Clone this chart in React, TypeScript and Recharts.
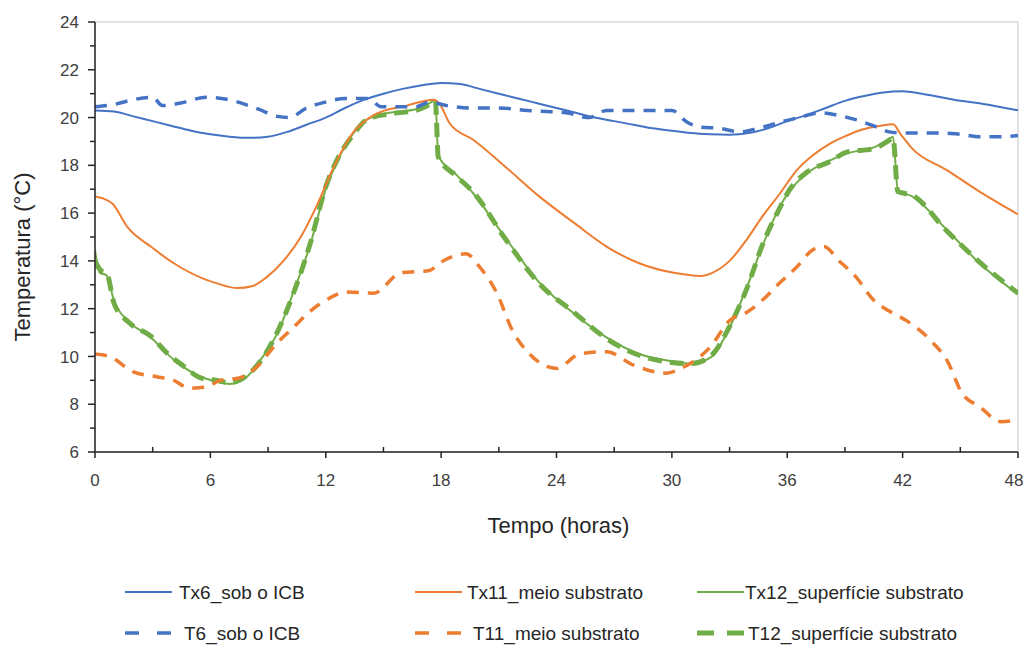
import React from 'react';
import { LineChart, Line, XAxis, YAxis, CartesianGrid, Label } from 'recharts';

const tx6Times = [0,1,2,3,4,5,6,7,8,9,10,11,12,13,14,15,16,17,18,19,20,21,22,23,24,25,26,27,28,29,30,31,32,33,34,35,36,37,38,39,40,41,42,43,44,45,46,47,48];
const tx6Vals = [20.3,20.25,20.05,19.85,19.65,19.45,19.3,19.2,19.15,19.2,19.4,19.7,20.0,20.4,20.75,21.0,21.2,21.35,21.45,21.4,21.2,21.0,20.8,20.6,20.4,20.2,20.0,19.85,19.7,19.55,19.45,19.35,19.3,19.28,19.35,19.55,19.85,20.1,20.4,20.7,20.9,21.05,21.1,21.0,20.85,20.7,20.6,20.45,20.3];

const t6Times = [0,1,2,3,3.5,4.4,5.8,7.2,8.5,9.5,10.1,11,12,13,14.2,14.9,15.7,16.7,17.4,18.3,19.5,21,22.5,23.5,24.5,25.7,26.6,28,30,30.8,31.5,32.5,33.5,34.5,35.6,36.6,37.8,38.6,39.6,40.5,41.3,42,43,44,45,46,47,48];
const t6Vals = [20.45,20.55,20.75,20.85,20.5,20.6,20.85,20.7,20.35,20.05,20.0,20.4,20.65,20.8,20.8,20.45,20.45,20.45,20.65,20.5,20.4,20.4,20.3,20.25,20.2,20.0,20.3,20.3,20.3,19.8,19.6,19.55,19.4,19.55,19.8,20.0,20.2,20.1,19.9,19.65,19.4,19.35,19.35,19.35,19.3,19.2,19.2,19.25];

const tx11Times = [0,0.4,0.9,1.7,2.9,4.1,5.5,6.3,7.4,8.2,8.9,9.8,10.7,11.5,12.4,13.4,14.5,16.2,17.6,17.9,18.45,19.7,21.4,23.1,24.9,26.6,28.3,30.1,31.5,32.1,33,33.9,34.7,35.6,36.5,37.3,38.2,39.1,39.9,40.8,41.5,41.9,42.5,44.3,46,48];
const tx11Vals = [16.7,16.62,16.4,15.4,14.6,13.9,13.3,13.07,12.86,12.95,13.3,14.0,15.0,16.25,17.9,19.35,20.1,20.5,20.75,20.6,19.75,19.05,17.9,16.7,15.6,14.6,13.9,13.5,13.37,13.5,14.0,14.9,15.85,16.8,17.8,18.4,18.9,19.25,19.5,19.65,19.72,19.3,18.7,17.8,16.9,15.95];

const t11Times = [0,0.8,2,3.2,4.1,4.9,5.8,6.5,7.5,8.4,9.45,10.3,11.2,12.1,13.1,14.5,15.9,17.4,17.9,19.3,20,20.9,21.7,22.6,24,25.2,26.6,28,29.7,30.6,32,33,33.9,34.7,35.6,36.5,37.3,37.9,38.7,39.6,40.5,41.3,42.2,43.6,44.3,45.1,46,47.1,48];
const t11Vals = [10.1,9.98,9.35,9.15,9.0,8.67,8.72,9.0,9.1,9.55,10.55,11.2,11.9,12.4,12.7,12.65,13.5,13.6,13.9,14.3,13.75,12.65,11.1,10.1,9.5,10.1,10.2,9.64,9.3,9.55,10.4,11.5,11.85,12.35,13.07,13.75,14.45,14.6,14.0,13.3,12.35,11.9,11.5,10.55,9.85,8.45,7.9,7.27,7.35];

const tx12Times = [0,0.25,0.6,1,1.7,2.9,3.7,4.6,5.5,6.3,7.0,7.9,8.6,9.5,10.3,11.2,12.0,12.7,13.4,14.1,15.3,16.7,17.4,17.7,17.85,18.8,19.7,21.4,23.1,24.9,26.6,28.3,30.0,31.0,32.0,33.0,33.9,34.7,35.6,36.1,37.0,38.2,39.1,40.5,41.3,41.5,41.75,42.5,44.3,46.0,48];
const tx12Vals = [14.45,13.5,13.4,12.3,11.5,10.8,10.15,9.55,9.15,8.95,8.85,9.15,9.85,11.0,12.65,14.7,17.0,18.35,19.3,19.9,20.2,20.35,20.6,20.75,18.4,17.6,16.8,14.9,13.1,11.8,10.8,10.1,9.8,9.7,9.95,11.2,12.9,14.6,16.25,16.9,17.65,18.2,18.5,18.75,19.1,19.2,16.95,16.7,15.3,13.9,12.6];

const t12Times = [0,0.3,0.6,1,1.8,2.9,3.8,4.6,5.5,6.3,7.0,7.9,8.6,9.5,10.3,11.2,12.0,12.7,13.4,14.2,15.3,16.7,17.4,17.7,17.85,18.8,19.7,21.4,23.1,24.9,26.6,28.3,30.0,31.0,32.0,33.0,33.9,34.7,35.6,36.1,37.0,38.2,39.1,40.5,41.3,41.5,41.75,42.5,44.3,46.0,48];
const t12Vals = [14.0,13.6,13.5,12.2,11.4,10.85,10.1,9.6,9.1,9.0,8.9,9.2,9.8,11.05,12.6,14.75,17.1,18.4,19.25,19.95,20.15,20.3,20.55,20.7,18.35,17.55,16.85,14.85,13.05,11.85,10.75,10.05,9.75,9.7,10.0,11.25,12.85,14.65,16.2,16.95,17.7,18.15,18.55,18.7,19.05,19.15,16.9,16.75,15.25,13.95,12.65];

const minorXTicks = [0,3,6,9,12,15,18,21,24,27,30,33,36,39,42,45,48];
const majorXTicks = [0,6,12,18,24,30,36,42,48];
const minorYTicks = [6,7,8,9,10,11,12,13,14,15,16,17,18,19,20,21,22,23,24];
const majorYTicks = [6,8,10,12,14,16,18,20,22,24];

const seriesNames = ['Tx6_sob o ICB','Tx11_meio substrato','Tx12_superfície substrato','T6_sob o ICB','T11_meio substrato','T12_superfície substrato'];

const BLUE = '#4472C4';
const ORANGE = '#ED7D31';
const GREEN = '#70AD47';
const FONT = '"Liberation Sans", Arial, sans-serif';

const toPoints = (ts: number[], vs: number[]) => ts.map((t, i) => ({ t, v: vs[i] }));

const XTick = (props: any) => {
  const { x, y, payload } = props;
  const major = payload.value % 6 === 0;
  const last = payload.value === 48;
  return (
    <g>
      <line x1={x} x2={x} y1={y} y2={major ? y + 6 : y - 5} stroke="#262626" strokeWidth={1.5} />
      {major && (
        <text x={last ? x - 4 : x} y={y + 34} textAnchor="middle" fontSize={17} fill="#404040" fontFamily={FONT}>
          {payload.value}
        </text>
      )}
    </g>
  );
};

const YTick = (props: any) => {
  const { x, y, payload } = props;
  const major = payload.value % 2 === 0;
  return (
    <g>
      <line x1={major ? x - 7 : x - 5} x2={x} y1={y} y2={y} stroke="#262626" strokeWidth={1.5} />
      {major && (
        <text x={x - 16} y={y} dy="0.36em" textAnchor="end" fontSize={17} fill="#404040" fontFamily={FONT}>
          {payload.value}
        </text>
      )}
    </g>
  );
};

const legendRows = [
  { y: 592, items: [
    { x: 125, color: BLUE, dash: undefined, w: 2, tx: 179, name: seriesNames[0] },
    { x: 415, color: ORANGE, dash: undefined, w: 2, tx: 467, name: seriesNames[1] },
    { x: 697, color: GREEN, dash: undefined, w: 2, tx: 745, name: seriesNames[2] },
  ]},
  { y: 633, items: [
    { x: 125, color: BLUE, dash: '14 18', w: 3.5, tx: 184, name: seriesNames[3] },
    { x: 415, color: ORANGE, dash: '14 18', w: 3.5, tx: 473, name: seriesNames[4] },
    { x: 697, color: GREEN, dash: '17 13', w: 5, tx: 748, name: seriesNames[5] },
  ]},
];

export default function App() {
  return (
    <div style={{ position: 'relative', width: 1031, height: 645, margin: '-8px 0 0 -8px' }}>
      <LineChart width={1031} height={645} margin={{ top: 22, right: 13, bottom: 163, left: 0 }}>
        <XAxis xAxisId="g" type="number" domain={[0, 48]} ticks={majorXTicks} hide />
        <YAxis yAxisId="g" type="number" domain={[6, 24]} ticks={majorYTicks} hide />
        <CartesianGrid xAxisId="g" yAxisId="g" stroke="#d9d9d9" strokeWidth={1.5} />
        <XAxis
          type="number"
          dataKey="t"
          domain={[0, 48]}
          ticks={minorXTicks}
          interval={0}
          allowDataOverflow
          tick={<XTick />}
          tickLine={false}
          tickSize={0}
          tickMargin={0}
          height={30}
          axisLine={{ stroke: '#262626', strokeWidth: 1.5 }}
        >
          <Label
            content={(p: any) => {
              const vb = p.viewBox;
              return (
                <text x={vb.x + vb.width / 2 + 2} y={vb.y + 81} textAnchor="middle" fontSize={22} fill="#262626" fontFamily={FONT}>
                  Tempo (horas)
                </text>
              );
            }}
          />
        </XAxis>
        <YAxis
          type="number"
          domain={[6, 24]}
          ticks={minorYTicks}
          interval={0}
          allowDataOverflow
          tick={<YTick />}
          tickLine={false}
          tickSize={0}
          tickMargin={0}
          width={95}
          axisLine={{ stroke: '#262626', strokeWidth: 1.5 }}
        >
          <Label
            content={() => {
              const cx = 22;
              const cy = 257;
              return (
                <text x={cx} y={cy} transform={`rotate(-90 ${cx} ${cy})`} textAnchor="middle" dominantBaseline="central" fontSize={22} fill="#262626" fontFamily={FONT}>
                  Temperatura (°C)
                </text>
              );
            }}
          />
        </YAxis>
        <Line data={toPoints(t12Times, t12Vals)} dataKey="v" type="monotone" stroke={GREEN} strokeWidth={5} strokeDasharray="14 8" dot={false} isAnimationActive={false} name={seriesNames[5]} />
        <Line data={toPoints(tx12Times, tx12Vals)} dataKey="v" type="monotone" stroke={GREEN} strokeWidth={2} dot={false} isAnimationActive={false} name={seriesNames[2]} />
        <Line data={toPoints(t11Times, t11Vals)} dataKey="v" type="monotone" stroke={ORANGE} strokeWidth={3.5} strokeDasharray="12 9" dot={false} isAnimationActive={false} name={seriesNames[4]} />
        <Line data={toPoints(tx11Times, tx11Vals)} dataKey="v" type="monotone" stroke={ORANGE} strokeWidth={2} dot={false} isAnimationActive={false} name={seriesNames[1]} />
        <Line data={toPoints(t6Times, t6Vals)} dataKey="v" type="monotone" stroke={BLUE} strokeWidth={3.5} strokeDasharray="12 9" dot={false} isAnimationActive={false} name={seriesNames[3]} />
        <Line data={toPoints(tx6Times, tx6Vals)} dataKey="v" type="monotone" stroke={BLUE} strokeWidth={2} dot={false} isAnimationActive={false} name={seriesNames[0]} />
      </LineChart>
      <svg width={1031} height={645} style={{ position: 'absolute', left: 0, top: 0, pointerEvents: 'none' }}>
        {legendRows.map((row, ri) => (
          <g key={ri}>
            {row.items.map((it, ii) => (
              <g key={ii}>
                <line x1={it.x} x2={it.x + 47} y1={row.y} y2={row.y} stroke={it.color} strokeWidth={it.w} strokeDasharray={it.dash} />
                <text x={it.tx} y={row.y} dy="0.36em" fontSize={19} fill="#262626" fontFamily={FONT}>{it.name}</text>
              </g>
            ))}
          </g>
        ))}
      </svg>
    </div>
  );
}
